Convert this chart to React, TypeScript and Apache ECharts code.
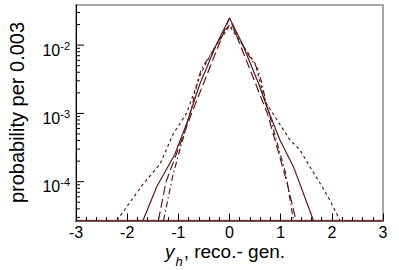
import React, { useEffect, useRef } from "react";
import * as echarts from "echarts";

// x range and ticks
const X_MIN = -3;
const X_MAX = 3;
const X_TICK_LABELS = ["-3", "-2", "-1", "0", "1", "2", "3"];

// y range (log)
const Y_MIN = 2.7e-5;
const Y_MAX = 0.0387;
const Y_MAJOR = [1e-4, 1e-3, 1e-2];
const Y_MINOR = [
  3e-5, 4e-5, 5e-5, 6e-5, 7e-5, 8e-5, 9e-5,
  2e-4, 3e-4, 4e-4, 5e-4, 6e-4, 7e-4, 8e-4, 9e-4,
  2e-3, 3e-3, 4e-3, 5e-3, 6e-3, 7e-3, 8e-3, 9e-3,
  2e-2, 3e-2,
];

// solid curve
const solidX = [-1.69, -1.42, -1.07, -0.84, -0.58, -0.25, 0, 0.25, 0.58, 0.73, 0.99, 1.25, 1.64];
const solidY = [2.7e-5, 8.5e-5, 2.5e-4, 7.0e-4, 2.7e-3, 1.05e-2, 2.5e-2, 1.05e-2, 2.6e-3, 1.24e-3, 4.0e-4, 1.66e-4, 2.7e-5];

// long dashed curve
const dashX = [-1.39, -1.24, -0.74, -0.4, 0, 0.4, 0.74, 1.12, 1.3];
const dashY = [2.7e-5, 1.0e-4, 1.0e-3, 4.4e-3, 2.5e-2, 4.4e-3, 1.0e-3, 1.0e-4, 2.7e-5];

// dash-dot curve
const dashDotX = [-1.29, -1.1, -0.9, -0.72, -0.62, -0.55, -0.35, -0.15, 0, 0.15, 0.35, 0.55, 0.62, 0.72, 0.9, 1.1, 1.25];
const dashDotY = [2.7e-5, 1.3e-4, 4.5e-4, 1.4e-3, 3.0e-3, 4.5e-3, 7.6e-3, 1.4e-2, 2.0e-2, 1.4e-2, 7.6e-3, 4.5e-3, 3.0e-3, 1.4e-3, 4.5e-4, 1.3e-4, 2.7e-5];

// short dashed curve (widest)
const dotX = [-2.2, -1.7, -1.36, -1.1, -0.84, -0.55, -0.3, 0, 0.3, 0.5, 0.7, 0.89, 1.18, 1.38, 1.57, 1.77, 1.96, 2.16];
const dotY = [2.7e-5, 9.0e-5, 1.8e-4, 5.0e-4, 1.0e-3, 4.0e-3, 9.0e-3, 1.9e-2, 9.0e-3, 5.4e-3, 1.48e-3, 8.9e-4, 4.1e-4, 2.9e-4, 1.66e-4, 9.5e-5, 5.4e-5, 2.7e-5];

const LINE_COLOR = "#5c1a1a";

const zip = (xs: number[], ys: number[]) => xs.map((x, i) => [x, ys[i]]);

export default function App() {
  const ref = useRef<HTMLDivElement>(null);
  useEffect(() => {
    if (!ref.current) return;
    const chart = echarts.init(ref.current, undefined, { renderer: "svg" });
    const font = "Liberation Sans, Arial, Helvetica, sans-serif";
    const tickData = [
      ...Y_MAJOR.map((v) => [X_MIN, v, 8]),
      ...Y_MINOR.map((v) => [X_MIN, v, 4]),
    ];
    const mk = (name: string, xs: number[], ys: number[], type: any) => ({
      name,
      type: "line",
      data: zip(xs, ys),
      showSymbol: false,
      symbol: "none",
      lineStyle: { color: LINE_COLOR, width: 1.2, type },
      clip: true,
      z: 3,
    });
    chart.setOption({
      animation: false,
      backgroundColor: "#ffffff",
      textStyle: { fontFamily: font },
      grid: {
        left: 76,
        right: 16,
        top: 5,
        bottom: 49.5,
        show: true,
        borderColor: "#8a8a8a",
        borderWidth: 1.5,
        backgroundColor: "transparent",
      },
      xAxis: {
        type: "value",
        min: X_MIN,
        max: X_MAX,
        interval: 1,
        axisLine: { show: true, onZero: false, lineStyle: { color: LINE_COLOR, width: 1.5 } },
        axisTick: { show: true, inside: true, length: 7, lineStyle: { color: "#000" } },
        minorTick: { show: true, splitNumber: 5, length: 3.5, lineStyle: { color: "#000" } },
        splitLine: { show: false },
        axisLabel: {
          margin: 4,
          fontSize: 16,
          color: "#000",
          fontFamily: font,
          formatter: (v: number) => {
            const i = Math.round(v - X_MIN);
            return X_TICK_LABELS[i] ?? "";
          },
        },
      },
      yAxis: {
        type: "log",
        logBase: 10,
        min: Y_MIN,
        max: Y_MAX,
        axisLine: { show: true, onZero: false, lineStyle: { color: "#000", width: 1 } },
        axisTick: { show: false },
        splitLine: { show: false },
        axisLabel: {
          margin: 6,
          color: "#000",
          fontFamily: font,
          padding: [8, 0, 0, 0],
          formatter: (v: number) => {
            const e = Math.log10(v);
            const r = Math.round(e);
            if (Math.abs(e - r) > 1e-6) return "";
            if (!Y_MAJOR.some((m) => Math.abs(Math.log10(m) - r) < 1e-6)) return "";
            return "{b|10}{s|" + r + "}";
          },
          rich: {
            b: { fontSize: 16, lineHeight: 18, verticalAlign: "bottom", fontFamily: font, color: "#000" },
            s: { fontSize: 11, lineHeight: 11, verticalAlign: "top", fontFamily: font, color: "#000" },
          },
        },
      },
      graphic: [
        {
          type: "text",
          x: 17,
          y: 112.5,
          rotation: Math.PI / 2,
          style: {
            text: "probability per 0.003",
            fontSize: 20,
            fontFamily: font,
            fill: "#000",
            align: "center",
            verticalAlign: "middle",
          },
        },
        {
          type: "text",
          x: 225,
          y: 252.5,
          style: {
            text: "{i|y}{h|h}{n|, reco.- gen.}",
            fontFamily: font,
            align: "center",
            verticalAlign: "middle",
            rich: {
              i: { fontSize: 19, fontStyle: "italic", fontFamily: font, fill: "#000", lineHeight: 22, verticalAlign: "top" },
              h: { fontSize: 13, fontStyle: "italic", fontFamily: font, fill: "#000", lineHeight: 13, verticalAlign: "top", padding: [13, 1, 0, 1] },
              n: { fontSize: 19, fontFamily: font, fill: "#000", lineHeight: 22, verticalAlign: "top" },
            },
          },
        },
      ],
      series: [
        mk("solid", solidX, solidY, "solid"),
        mk("dash", dashX, dashY, [9, 4]),
        mk("dashdot", dashDotX, dashDotY, [6, 3, 1.5, 3]),
        mk("dot", dotX, dotY, [3, 3]),
        {
          name: "yticks",
          type: "custom",
          data: tickData,
          silent: true,
          clip: false,
          z: 5,
          renderItem: (params: any, api: any) => {
            const p = api.coord([api.value(0), api.value(1)]);
            const len = api.value(2);
            return {
              type: "line",
              shape: { x1: p[0], y1: p[1], x2: p[0] + len, y2: p[1] },
              style: { stroke: "#000", lineWidth: 1 },
            };
          },
        },
      ],
    });
    return () => chart.dispose();
  }, []);
  return (
    <div
      ref={ref}
      style={{ position: "absolute", left: 0, top: 0, width: 399, height: 270, background: "#fff" }}
    />
  );
}
